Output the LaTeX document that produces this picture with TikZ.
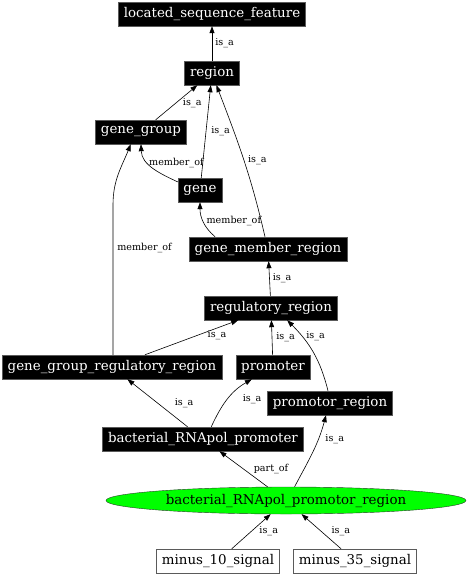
\documentclass[tikz,border=0pt]{standalone}
\usepackage{fontspec}
\setmainfont{DejaVu Serif}
\usetikzlibrary{arrows.meta,positioning,shapes.geometric}

\begin{document}
\begin{tikzpicture}[x=1pt,y=-1pt]
		\tikzstyle{every node}=[font=\fontsize{13.4}{16}\selectfont]
		\tikzstyle{blackbox}=[draw={rgb,255:red,90; green,90; blue,90}, fill=black, text=white, minimum height=24pt, inner xsep=5.5pt, inner ysep=0pt]
		\tikzstyle{whitebox}=[draw={rgb,255:red,90; green,90; blue,90}, fill=white, text=black, minimum height=24pt, inner xsep=5.5pt, inner ysep=0pt]
		\tikzstyle{isa}=[draw=black, line width=0.6pt, -{Triangle[length=7pt,width=5pt]}]
		\tikzstyle{lbl}=[font=\fontsize{9.6}{11}\selectfont, inner sep=0pt, anchor=west]
		\useasboundingbox (0,0) rectangle (469,576);
		% terms
		\node [blackbox] (lsf) at (212,14) {located\_sequence\_feature};
		\node [blackbox] (region) at (212,73) {region};
		\node [blackbox] (genegroup) at (141,132) {gene\_group};
		\node [blackbox] (gene) at (200,190) {gene};
		\node [blackbox] (gmr) at (268,249) {gene\_member\_region};
		\node [blackbox] (regreg) at (271,308) {regulatory\_region};
		\node [blackbox] (ggrr) at (112,367) {gene\_group\_regulatory\_region};
		\node [blackbox] (promoter) at (273,367) {promoter};
		\node [blackbox] (promreg) at (330,403) {promotor\_region};
		\node [blackbox] (brp) at (203,439) {bacterial\_RNApol\_promoter};
		\node [ellipse, draw={rgb,255:red,40; green,60; blue,40}, fill={rgb,255:red,0; green,255; blue,0}, minimum width=360pt, minimum height=27pt, inner sep=0pt] (brpr) at (286,500.5) {bacterial\_RNApol\_promotor\_region};
		\node [whitebox] (m10) at (218,561) {minus\_10\_signal};
		\node [whitebox] (m35) at (355,561) {minus\_35\_signal};
		% relations
		\draw [isa] (region) -- node [lbl, pos=0.5, xshift=3pt] {is\_a} (lsf);
		\draw [isa] (genegroup) -- node [lbl, pos=0.48, xshift=7pt] {is\_a} (region);
		\draw [isa] (gene) -- node [lbl, pos=0.5, xshift=5pt] {is\_a} (region);
		\draw [isa] (gmr.north) ++(-3,0) to [out=103, in=-69] node [lbl, pos=0.5, xshift=4pt] {is\_a} (region.-70);
		\draw [isa] (gene.160) to [out=155, in=-88] node [lbl, pos=0.63, xshift=1pt] {member\_of} (genegroup.south);
		\draw [isa] (gmr.167) to [out=140, in=-90] node [lbl, pos=0.5, xshift=3pt] {member\_of} (gene.south);
		\draw [isa] (ggrr.north) ++(1,0) -- ++(0,-150) node [lbl, pos=0.71, xshift=4pt] {member\_of} to [out=90, in=-112] (genegroup.-130);
		\draw [isa] (regreg) -- node [lbl, pos=0.5, xshift=3pt] {is\_a} (gmr);
		\draw [isa] (ggrr) -- node [lbl, pos=0.66, anchor=north west, yshift=2pt, xshift=1pt] {is\_a} (regreg);
		\draw [isa] (promoter) -- node [lbl, pos=0.5, xshift=4pt] {is\_a} (regreg);
		\draw [isa] (promreg.north) ++(-2,0) to [out=104, in=-45] node [lbl, pos=0.75, xshift=4pt] {is\_a} (regreg.-37);
		\draw [isa] (brp) -- node [lbl, pos=0.5, xshift=17pt] {is\_a} (ggrr);
		\draw [isa] (brp.56) to [out=65, in=-150] node [lbl, pos=0.5, xshift=15pt] {is\_a} (promoter.-150);
		\draw [isa] (brpr) -- node [lbl, pos=0.5, xshift=10pt] {part\_of} (brp);
		\draw [isa] (brpr.58) to [out=62, in=-105] node [lbl, pos=0.69, xshift=7pt] {is\_a} (promreg.-108);
		\draw [isa] (m10) -- node [lbl, pos=0.5, xshift=8pt] {is\_a} (brpr);
		\draw [isa] (m35) -- node [lbl, pos=0.5, xshift=10pt] {is\_a} (brpr);
\end{tikzpicture}
\end{document}
